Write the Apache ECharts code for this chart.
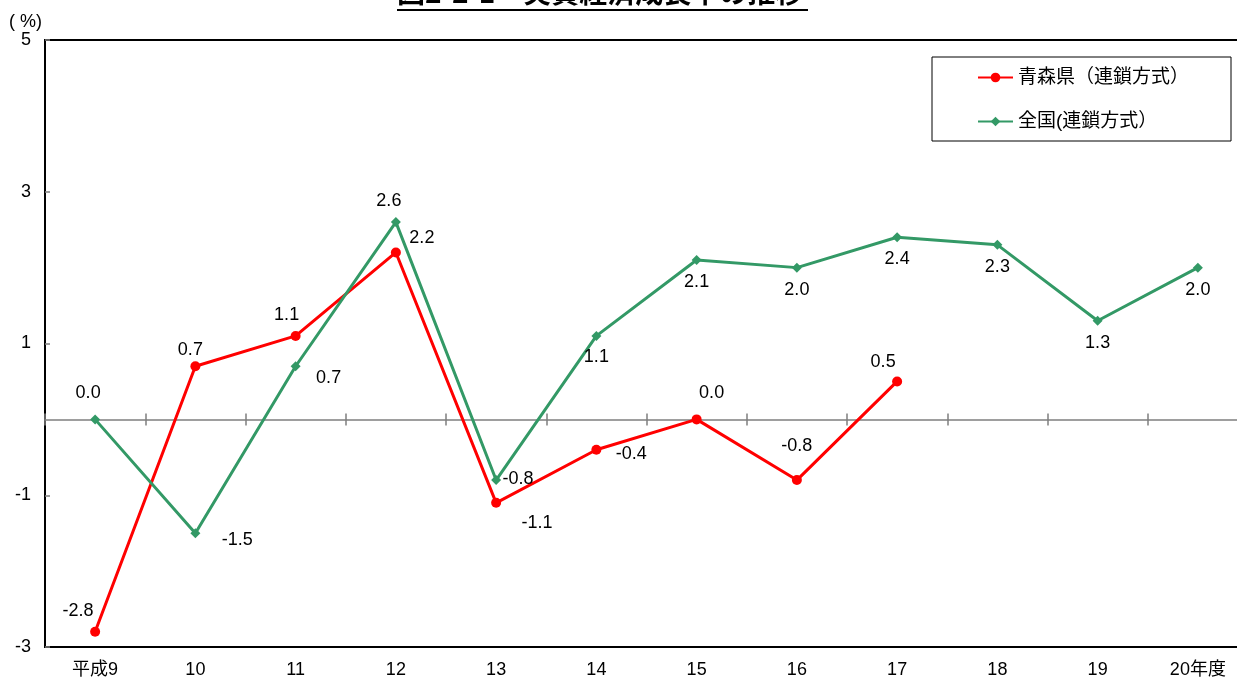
<!DOCTYPE html>
<html>
<head>
<meta charset="utf-8">
<script src="https://cdn.jsdelivr.net/npm/echarts@6/dist/echarts.min.js"></script>
<style>
html,body{margin:0;padding:0;background:#fff;}
#chart{width:1237px;height:681px;}
</style>
</head>
<body>
<div id="chart"></div>
<script>
// ---- data ----
const categories = ['平成9', '10', '11', '12', '13', '14', '15', '16', '17', '18', '19', '20年度'];
const aomori = [-2.8, 0.7, 1.1, 2.2, -1.1, -0.4, 0.0, -0.8, 0.5, null, null, null];
const national = [0.0, -1.5, 0.7, 2.6, -0.8, 1.1, 2.1, 2.0, 2.4, 2.3, 1.3, 2.0];
const yTickValues = [-3, -1, 1, 3, 5];
const seriesNames = ['青森県（連鎖方式）', '全国(連鎖方式）'];
const titleText = '図2-2-1　実質経済成長率の推移';

// ---- label placement (style only) ----
const aomoriLabelOffset = [[-17,-21],[-5,-16],[-9,-21],[26,-14],[41,20],[35,4],[15,-26],[0,-34],[-14,-19]];
const nationalLabelOffset = [[-7,-26],[42,7],[33,12],[-7,-21],[22,-1],[0,21],[0,22],[0,22],[0,22],[0,22],[0,22],[0,22]];

const LABEL_FONT = "'Liberation Sans', Arial, 'Noto Sans CJK JP', sans-serif";

function buildData(values, offsets) {
  return values.map((v, i) => {
    if (v === null) return '-';
    const off = offsets[i] || [0, -20];
    return {
      value: v,
      label: {
        show: true,
        position: 'inside',
        offset: off,
        align: 'center',
        verticalAlign: 'middle',
        formatter: (p) => Number(p.value).toFixed(1),
        color: '#000',
        fontSize: 18,
        fontFamily: LABEL_FONT
      }
    };
  });
}

const chart = echarts.init(document.getElementById('chart'), null, {renderer: 'canvas'});

const option = {
  backgroundColor: '#fff',
  animation: false,
  grid: {
    left: 45, top: 40, right: -11, bottom: 34,
    outerBoundsMode: 'none',
    containLabel: false,
    show: true, borderColor: '#000', borderWidth: 2, backgroundColor: 'transparent'
  },
  legend: {
    orient: 'vertical',
    left: 932, top: 57,
    padding: [11, 42, 10, 45],
    itemGap: 25,
    itemWidth: 35,
    itemHeight: 12,
    borderColor: '#000',
    borderWidth: 1,
    backgroundColor: '#fff',
    textStyle: {fontSize: 19, color: '#000', fontFamily: "'Liberation Sans', 'Noto Sans CJK JP', sans-serif"},
    data: seriesNames
  },
  xAxis: [
    {
      type: 'category', data: categories, position: 'bottom', boundaryGap: true,
      axisLine: {show: false, onZero: false},
      axisTick: {show: false},
      axisLabel: {margin: 14, fontSize: 18, color: '#000', fontFamily: "'Liberation Sans', 'Noto Sans CJK JP', sans-serif"},
      splitLine: {show: false}
    },
    {
      type: 'category', data: categories, position: 'bottom', boundaryGap: true,
      axisLine: {show: true, onZero: true, onZeroAxisIndex: 0, lineStyle: {color: '#7f7f7f', width: 1.5}},
      axisTick: {show: true, inside: true, length: 6, lineStyle: {color: '#7f7f7f', width: 1.5}},
      axisLabel: {show: false},
      splitLine: {show: false}
    },
    {
      type: 'category', data: categories, position: 'bottom', boundaryGap: true,
      axisLine: {show: false, onZero: true, onZeroAxisIndex: 0},
      axisTick: {show: true, inside: false, length: 6, lineStyle: {color: '#7f7f7f', width: 1.5}},
      axisLabel: {show: false},
      splitLine: {show: false}
    }
  ],
  yAxis: {
    type: 'value', min: -3, max: 5, interval: 1,
    axisLine: {show: false},
    axisTick: {show: true, inside: true, length: 5, customValues: yTickValues, lineStyle: {color: '#7f7f7f', width: 1.5}},
    axisLabel: {margin: 14, fontSize: 18, color: '#000', fontFamily: LABEL_FONT, customValues: yTickValues},
    splitLine: {show: false}
  },
  series: [
    {
      name: seriesNames[0], type: 'line', xAxisIndex: 0,
      data: buildData(aomori, aomoriLabelOffset),
      symbol: 'circle', symbolSize: 10,
      itemStyle: {color: '#ff0000'},
      lineStyle: {color: '#ff0000', width: 3},
      connectNulls: false, z: 3
    },
    {
      name: seriesNames[1], type: 'line', xAxisIndex: 0,
      data: buildData(national, nationalLabelOffset),
      symbol: 'diamond', symbolSize: 10,
      itemStyle: {color: '#339966'},
      lineStyle: {color: '#339966', width: 3},
      z: 4
    }
  ],
  graphic: [
    {
      type: 'text', left: 397, top: -22,
      style: {text: titleText, fontSize: 28, fontWeight: 'bold', fill: '#000', fontFamily: "'Noto Sans CJK JP', sans-serif"}
    },
    {
      type: 'rect', shape: {x: 397, y: 9, width: 411, height: 2}, style: {fill: '#000'}
    },
    {
      type: 'text', left: 9, top: 13,
      style: {text: '( %)', fontSize: 18, fill: '#000', fontFamily: LABEL_FONT}
    }
  ]
};

chart.setOption(option);
</script>
</body>
</html>
